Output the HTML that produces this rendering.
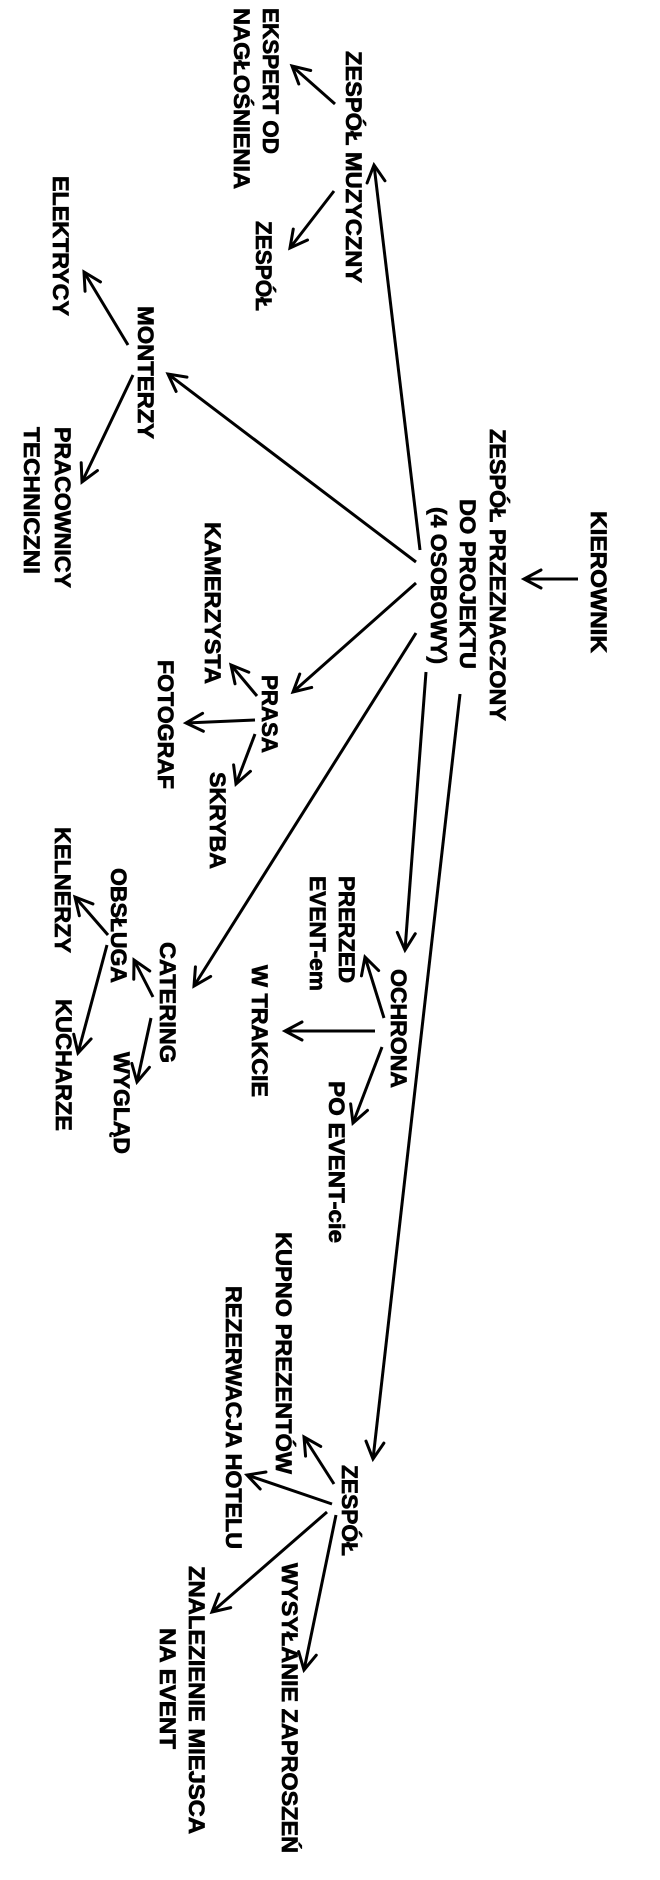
<!DOCTYPE html>
<html>
<head>
<meta charset="utf-8">
<style>
  html,body{margin:0;padding:0;background:#fff;}
  svg{display:block;}
  text{font-family:"Liberation Sans","DejaVu Sans",sans-serif;font-weight:bold;font-size:22px;fill:#000;stroke:#000;stroke-width:0.7px;}
  line{stroke:#000;stroke-width:3;}
</style>
</head>
<body>
<svg width="660" height="1880" viewBox="0 0 660 1880" xmlns="http://www.w3.org/2000/svg">
  <defs>
    <marker id="ah" markerUnits="userSpaceOnUse" viewBox="-24 -16 32 32" markerWidth="32" markerHeight="32" refX="0" refY="0" orient="auto">
      <path d="M -17 -9 L 0 0 L -17 9" fill="none" stroke="#000" stroke-width="3" stroke-linejoin="miter" stroke-linecap="round"/>
    </marker>
  </defs>
  <rect width="660" height="1880" fill="#fff"/>

  <!-- Texts (rotated 90deg clockwise) -->
  <text transform="translate(591,511) rotate(90)" textLength="142" lengthAdjust="spacingAndGlyphs">KIEROWNIK</text>
  <text transform="translate(490,429) rotate(90)" textLength="292" lengthAdjust="spacingAndGlyphs">ZESPÓŁ PRZEZNACZONY</text>
  <text transform="translate(460,499) rotate(90)" textLength="170" lengthAdjust="spacingAndGlyphs">DO PROJEKTU</text>
  <text transform="translate(431,507) rotate(90)" textLength="157" lengthAdjust="spacingAndGlyphs">(4 OSOBOWY)</text>

  <text transform="translate(346,51) rotate(90)" textLength="232" lengthAdjust="spacingAndGlyphs">ZESPÓŁ MUZYCZNY</text>
  <text transform="translate(263,8) rotate(90)" textLength="146" lengthAdjust="spacingAndGlyphs">EKSPERT OD</text>
  <text transform="translate(234,8) rotate(90)" textLength="181" lengthAdjust="spacingAndGlyphs">NAGŁOŚNIENIA</text>
  <text transform="translate(256,221) rotate(90)" textLength="90" lengthAdjust="spacingAndGlyphs">ZESPÓŁ</text>

  <text transform="translate(53,176) rotate(90)" textLength="140" lengthAdjust="spacingAndGlyphs">ELEKTRYCY</text>
  <text transform="translate(138,306) rotate(90)" textLength="133" lengthAdjust="spacingAndGlyphs">MONTERZY</text>
  <text transform="translate(55,427) rotate(90)" textLength="161" lengthAdjust="spacingAndGlyphs">PRACOWNICY</text>
  <text transform="translate(24,427) rotate(90)" textLength="147" lengthAdjust="spacingAndGlyphs">TECHNICZNI</text>

  <text transform="translate(205,522) rotate(90)" textLength="162" lengthAdjust="spacingAndGlyphs">KAMERZYSTA</text>
  <text transform="translate(262,675) rotate(90)" textLength="78" lengthAdjust="spacingAndGlyphs">PRASA</text>
  <text transform="translate(158,660) rotate(90)" textLength="129" lengthAdjust="spacingAndGlyphs">FOTOGRAF</text>
  <text transform="translate(210,772) rotate(90)" textLength="97" lengthAdjust="spacingAndGlyphs">SKRYBA</text>

  <text transform="translate(339,876) rotate(90)" textLength="107" lengthAdjust="spacingAndGlyphs">PRERZED</text>
  <text transform="translate(310,876) rotate(90)" textLength="115" lengthAdjust="spacingAndGlyphs">EVENT-em</text>
  <text transform="translate(391,969) rotate(90)" textLength="119" lengthAdjust="spacingAndGlyphs">OCHRONA</text>
  <text transform="translate(252,965) rotate(90)" textLength="132" lengthAdjust="spacingAndGlyphs">W TRAKCIE</text>
  <text transform="translate(329,1081) rotate(90)" textLength="162" lengthAdjust="spacingAndGlyphs">PO EVENT-cie</text>

  <text transform="translate(111,868) rotate(90)" textLength="115" lengthAdjust="spacingAndGlyphs">OBSŁUGA</text>
  <text transform="translate(55,827) rotate(90)" textLength="126" lengthAdjust="spacingAndGlyphs">KELNERZY</text>
  <text transform="translate(160,942) rotate(90)" textLength="121" lengthAdjust="spacingAndGlyphs">CATERING</text>
  <text transform="translate(114,1052) rotate(90)" textLength="102" lengthAdjust="spacingAndGlyphs">WYGLĄD</text>
  <text transform="translate(56,999) rotate(90)" textLength="132" lengthAdjust="spacingAndGlyphs">KUCHARZE</text>

  <text transform="translate(276,1232) rotate(90)" textLength="242" lengthAdjust="spacingAndGlyphs">KUPNO PREZENTÓW</text>
  <text transform="translate(226,1286) rotate(90)" textLength="263" lengthAdjust="spacingAndGlyphs">REZERWACJA HOTELU</text>
  <text transform="translate(342,1465) rotate(90)" textLength="91" lengthAdjust="spacingAndGlyphs">ZESPÓŁ</text>
  <text transform="translate(282,1563) rotate(90)" textLength="290" lengthAdjust="spacingAndGlyphs">WYSYŁANIE ZAPROSZEŃ</text>
  <text transform="translate(189,1566) rotate(90)" textLength="268" lengthAdjust="spacingAndGlyphs">ZNALEZIENIE MIEJSCA</text>
  <text transform="translate(160,1628) rotate(90)" textLength="121" lengthAdjust="spacingAndGlyphs">NA EVENT</text>

  <!-- Arrows -->
  <line x1="578" y1="579" x2="524" y2="579" marker-end="url(#ah)"/>
  <line x1="420" y1="550" x2="374" y2="165" marker-end="url(#ah)"/>
  <line x1="416" y1="562" x2="168" y2="374" marker-end="url(#ah)"/>
  <line x1="416" y1="583" x2="293" y2="692" marker-end="url(#ah)"/>
  <line x1="416" y1="633" x2="194" y2="986" marker-end="url(#ah)"/>
  <line x1="426" y1="672" x2="405" y2="950" marker-end="url(#ah)"/>
  <line x1="460" y1="694" x2="373" y2="1459" marker-end="url(#ah)"/>

  <line x1="335" y1="104" x2="292" y2="66" marker-end="url(#ah)"/>
  <line x1="334" y1="191" x2="290" y2="248" marker-end="url(#ah)"/>
  <line x1="128" y1="345" x2="84" y2="272" marker-end="url(#ah)"/>
  <line x1="133" y1="375" x2="82" y2="482" marker-end="url(#ah)"/>

  <line x1="257" y1="696" x2="231" y2="665" marker-end="url(#ah)"/>
  <line x1="255" y1="720" x2="186" y2="723" marker-end="url(#ah)"/>
  <line x1="255" y1="734" x2="236" y2="784" marker-end="url(#ah)"/>

  <line x1="384" y1="1018" x2="365" y2="957" marker-end="url(#ah)"/>
  <line x1="375" y1="1031" x2="285" y2="1031" marker-end="url(#ah)"/>
  <line x1="382" y1="1047" x2="353" y2="1123" marker-end="url(#ah)"/>

  <line x1="153" y1="997" x2="134" y2="960" marker-end="url(#ah)"/>
  <line x1="151" y1="1018" x2="137" y2="1082" marker-end="url(#ah)"/>
  <line x1="108" y1="935" x2="75" y2="897" marker-end="url(#ah)"/>
  <line x1="107" y1="945" x2="78" y2="1053" marker-end="url(#ah)"/>

  <line x1="334" y1="1484" x2="304" y2="1437" marker-end="url(#ah)"/>
  <line x1="332" y1="1504" x2="247" y2="1475" marker-end="url(#ah)"/>
  <line x1="327" y1="1512" x2="212" y2="1612" marker-end="url(#ah)"/>
  <line x1="336" y1="1515" x2="304" y2="1670" marker-end="url(#ah)"/>
</svg>
</body>
</html>
